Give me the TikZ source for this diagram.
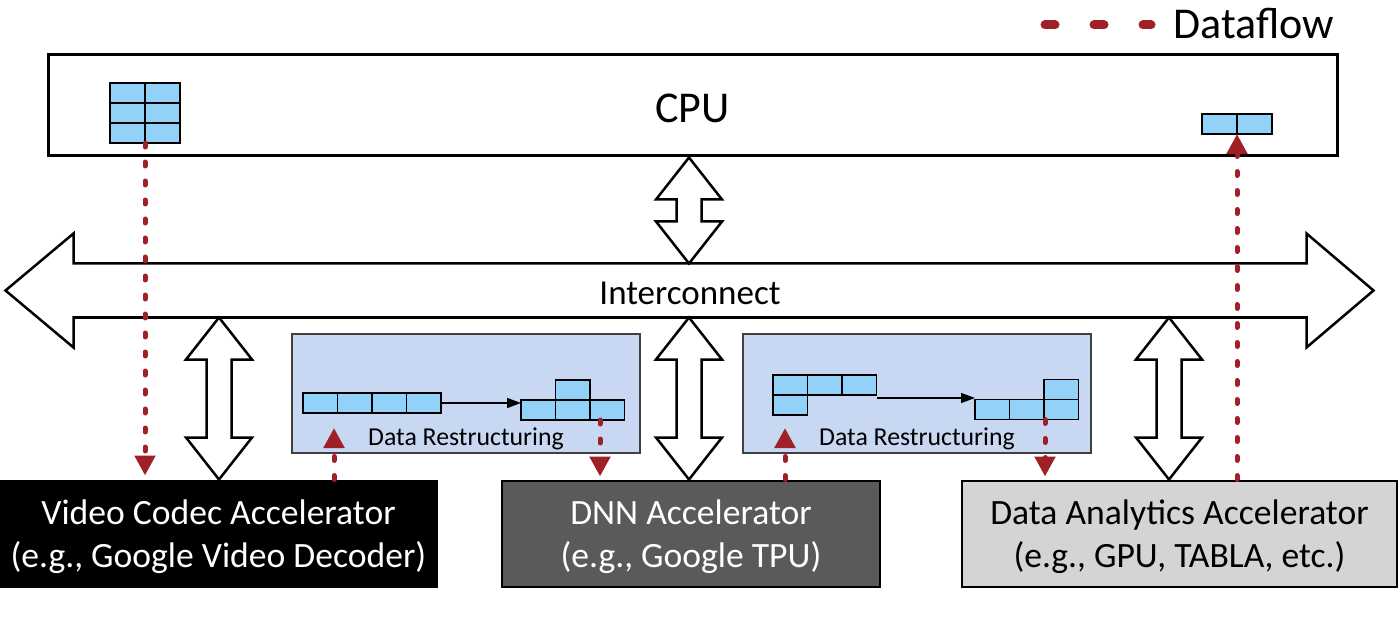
\documentclass[tikz,border=0pt]{standalone}
\usepackage{fontspec}
\setmainfont{Carlito}
\usetikzlibrary{positioning,arrows.meta,calc}
\definecolor{cellblue}{RGB}{146,210,248}
\definecolor{restblue}{RGB}{200,216,242}
\definecolor{flowred}{RGB}{160,32,40}
\definecolor{dnngray}{RGB}{90,90,90}
\definecolor{daagray}{RGB}{212,212,212}

\begin{document}
\begin{tikzpicture}[x=1pt,y=-1pt,line width=3pt,
  cell/.style={draw,line width=1.5pt,fill=cellblue,minimum width=34.5pt,minimum height=20pt,inner sep=0pt,outer sep=0pt},
  restbox/.style={draw=black!75,line width=1.5pt,fill=restblue,minimum width=348pt,minimum height=119pt,inner sep=0pt},
  restlabel/.style={inner sep=0pt,font=\fontsize{25.8}{30}\selectfont},
  accel/.style={draw,line width=2pt,minimum height=106pt,inner sep=0pt,align=center,font=\fontsize{35.6}{43}\selectfont},
  flow/.style={draw=flowred,line width=5pt,line cap=round,dash pattern=on 4pt off 15pt,-{Triangle[length=20pt,width=20pt]}},
  movearrow/.style={line width=1.5pt,-{Triangle[length=14pt,width=10pt]}},
  bus/.style={line width=2.5pt,fill=white},
  vbus/.style={to path={let \p1=(\tikztostart),\p2=(\tikztotarget) in
    (\x1,\y1) -- (\x1+33pt,\y1-42pt) -- (\x1+12.5pt,\y1-42pt) -- (\x1+12.5pt,\y2+42pt)
    -- (\x1+33pt,\y2+42pt) -- (\x1,\y2) -- (\x1-33pt,\y2+42pt) -- (\x1-12.5pt,\y2+42pt)
    -- (\x1-12.5pt,\y1-42pt) -- (\x1-33pt,\y1-42pt) -- cycle}}]

  \useasboundingbox (0,0) rectangle (1400,636);

  % legend
  \coordinate (lg1) at (1045,25);
  \coordinate (lg2) at (1151,25);
  \draw[flowred,line width=9pt,line cap=round,dash pattern=on 10pt off 39pt] (lg1) -- (lg2);
  \node[anchor=west,inner sep=0pt,font=\fontsize{44}{50}\selectfont] (legend) at (1172,24) {Dataflow};

  % cpu and its data
  \node[draw,minimum width=1289pt,minimum height=101pt,inner sep=0pt,font=\fontsize{44}{50}\selectfont] (cpu) at (692.5,105.5) {};
  \node[inner sep=0pt,font=\fontsize{44}{50}\selectfont] (cpulabel) at (692.5,108.5) {CPU};
  \foreach \r in {1,2,3}
    \foreach \c in {1,2}
      \node[cell,minimum width=35pt] (g\r\c) at (110+35*\c-17.5,83+20*\r-10) {};
  \node[cell,minimum width=35pt] (h1) at (1219.5,124) {};
  \node[cell,minimum width=35pt,right=0pt of h1] (h2) {};

  % interconnect
  \node[minimum width=1230pt,minimum height=51pt,inner sep=0pt] (ic) at (690,290.5) {};
  \node[inner sep=0pt,font=\fontsize{35}{40}\selectfont] (iclabel) at (690,293.5) {Interconnect};
  \draw[line width=2.5pt] (ic.north west) -- (ic.north east) -- ++(0,-30) -- ($(ic.east)+(67,0)$)
    -- ($(ic.south east)+(0,30)$) -- (ic.south east) -- (ic.south west) -- ++(0,30)
    -- ($(ic.west)+(-68,0)$) -- ($(ic.north west)+(0,-30)$) -- cycle;

  % accelerators
  \node[accel,fill=black,text=white,minimum width=437pt] (vca) at (218.5,533.5) {\rule{0pt}{31pt}Video Codec Accelerator\\(e.g., Google Video Decoder)};
  \node[accel,fill=dnngray,text=white,minimum width=378pt] (dnn) at (691,533.5) {\rule{0pt}{31pt}DNN Accelerator\\(e.g., Google TPU)};
  \node[accel,fill=daagray,minimum width=435pt] (daa) at (1179.5,533.5) {\rule{0pt}{31pt}Data Analytics Accelerator\\(e.g., GPU, TABLA, etc.)};

  % buses
  \coordinate (v1) at (219,0);
  \coordinate (v2) at (689,0);
  \coordinate (v3) at (1169,0);
  \draw[bus] (cpu.south -| v2) to[vbus] (ic.north -| v2);
  \draw[bus] (ic.south -| v1) to[vbus] (vca.north -| v1);
  \draw[bus] (ic.south -| v2) to[vbus] (dnn.north -| v2);
  \draw[bus] (ic.south -| v3) to[vbus] (daa.north -| v3);

  % data restructuring, left
  \node[restbox] (rs1) at (466,393.5) {};
  \node[restlabel,above=2pt of rs1.south] (rl1) {Data Restructuring};
  \foreach \i in {1,...,4}
    \node[cell] (a\i) at (303+34.5*\i-17.25,403) {};
  \foreach \i in {1,2,3}
    \node[cell] (b\i) at (521+34.5*\i-17.25,410) {};
  \node[cell,above=0pt of b2] (b4) {};
  \draw[movearrow] (a4.east) -- (a4.east -| b1.west);

  % data restructuring, right
  \node[restbox] (rs2) at (917,393.5) {};
  \node[restlabel,above=2pt of rs2.south] (rl2) {Data Restructuring};
  \foreach \i in {1,2,3}
    \node[cell] (c\i) at (773+34.5*\i-17.25,385) {};
  \node[cell,below=0pt of c1] (c4) {};
  \foreach \i in {1,2,3}
    \node[cell] (d\i) at (975+34.5*\i-17.25,409.5) {};
  \node[cell,above=0pt of d3] (d4) {};
  \draw[movearrow] ($(c3.south east)+(0,3)$) -- ($(c3.south east -| d1.west)+(0,3)$);

  % dataflow
  \coordinate (f1) at (145,0);
  \coordinate (f3) at (600,0);
  \coordinate (f5) at (1045,0);
  \coordinate (f6) at (1237,0);
  \coordinate (t2) at (334,428);
  \coordinate (t4) at (785,428);
  \draw[flow,shorten >=4pt] (g31.south east) -- (vca.north -| f1);
  \draw[flow] (vca.north -| t2) -- (t2);
  \draw[flow,shorten >=3pt] (b3.south -| f3) -- (dnn.north -| f3);
  \draw[flow] (dnn.north -| t4) -- (t4);
  \draw[flow,shorten >=3pt] (d3.south -| f5) -- (daa.north -| f5);
  \draw[flow] (daa.north -| f6) -- (h1.south east);
\end{tikzpicture}
\end{document}
